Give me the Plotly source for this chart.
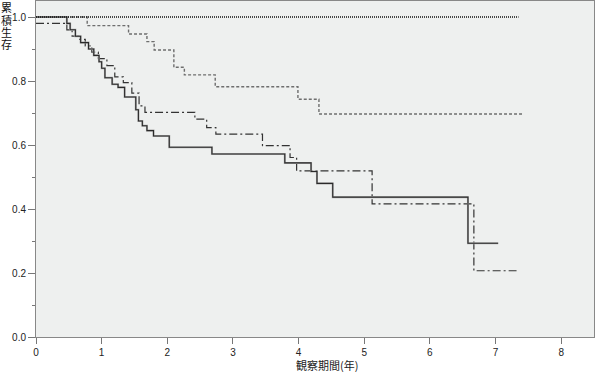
import plotly.graph_objects as go

# Kaplan-Meier step data (time in years, cumulative survival)
t_dotted = [0.0, 7.35]
s_dotted = [1.0, 1.0]

t_dashed = [0.0, 0.78, 1.41, 1.69, 1.80, 2.10, 2.26, 2.73, 3.99, 4.31, 7.42]
s_dashed = [1.0, 0.973, 0.947, 0.923, 0.897, 0.843, 0.819, 0.782, 0.743, 0.697, 0.697]

t_dashdot = [0.0, 0.47, 0.55, 0.65, 0.75, 0.85, 0.95, 1.08, 1.20, 1.33, 1.46, 1.57, 1.66,
             2.42, 2.60, 2.74, 3.45, 3.87, 3.97, 5.12, 6.67, 7.32]
s_dashdot = [0.98, 0.96, 0.94, 0.93, 0.91, 0.89, 0.87, 0.848, 0.813, 0.795, 0.762, 0.722, 0.702,
             0.681, 0.654, 0.634, 0.598, 0.561, 0.519, 0.416, 0.207, 0.207]

t_solid = [0.0, 0.47, 0.52, 0.60, 0.68, 0.80, 0.88, 0.96, 1.00, 1.05, 1.16, 1.25, 1.35,
           1.52, 1.56, 1.62, 1.69, 1.79, 2.03, 2.68, 3.79, 4.19, 4.28, 4.52, 6.58, 7.04]
s_solid = [1.0, 0.98, 0.96, 0.94, 0.92, 0.90, 0.88, 0.86, 0.84, 0.81, 0.79, 0.78, 0.75,
           0.71, 0.675, 0.66, 0.645, 0.628, 0.593, 0.572, 0.544, 0.517, 0.480, 0.437, 0.293, 0.293]

x_ticks = [0, 1, 2, 3, 4, 5, 6, 7, 8]
y_ticks = [0.0, 0.2, 0.4, 0.6, 0.8, 1.0]
y_tick_labels = ["0.0", "0.2", "0.4", "0.6", "0.8", "1.0"]

x_title = "観察期間(年)"
y_title = "累積生存"

fig = go.Figure()
fig.add_trace(go.Scatter(x=t_dashed, y=s_dashed, mode="lines", line_shape="hv",
                         line=dict(color="#6e6e6e", width=1.4, dash="3px,2px")))
fig.add_trace(go.Scatter(x=t_dashdot, y=s_dashdot, mode="lines", line_shape="hv",
                         line=dict(color="#333333", width=1.2, dash="8px,3px,2px,3px")))
fig.add_trace(go.Scatter(x=t_solid, y=s_solid, mode="lines", line_shape="hv",
                         line=dict(color="#aaaaaa", width=2.0)))
fig.add_trace(go.Scatter(x=t_solid, y=s_solid, mode="lines", line_shape="hv",
                         line=dict(color="#2a2a2a", width=1.1)))
fig.add_trace(go.Scatter(x=t_dotted, y=s_dotted, mode="lines", line_shape="hv",
                         line=dict(color="#111111", width=1.6, dash="1px,1px")))

tick_font = dict(family="Liberation Sans, Arial, sans-serif", size=10, color="#222")
cjk = "Noto Sans CJK JP, sans-serif"

fig.update_layout(
    width=596, height=372,
    margin=dict(l=36, r=2, t=1, b=35),
    paper_bgcolor="white",
    plot_bgcolor="#eef0ef",
    showlegend=False,
    hovermode=False,
    xaxis=dict(range=[0, 8.5], tickvals=x_ticks, ticks="outside", ticklen=6,
               tickcolor="#777", showgrid=False, zeroline=False, showline=True,
               linecolor="#888", linewidth=1, mirror=True, tickfont=tick_font,
               automargin=False),
    yaxis=dict(range=[0, 1.05], tickvals=y_ticks, ticktext=y_tick_labels,
               ticks="outside", ticklen=7, tickcolor="#777", showgrid=False,
               zeroline=False, showline=True, linecolor="#888", linewidth=1,
               mirror=True, tickfont=tick_font, automargin=False,
               minor=dict(dtick=0.1, ticks="outside", ticklen=3, tickcolor="#777")),
)

fig.add_annotation(text=x_title, xref="paper", yref="paper", x=(327 - 36) / 558,
                   y=-(365 - 337) / 336, yanchor="middle", showarrow=False,
                   font=dict(family=cjk, size=11, color="#222"))
# vertical stacked y-axis title, one character per line (pixel positions from top)
for i, ch in enumerate(y_title):
    ypx = 7 + 12.5 * i
    fig.add_annotation(text=ch, xref="paper", yref="paper",
                       x=(6 - 36) / 558, xanchor="center",
                       y=(337 - ypx) / 336, yanchor="middle", showarrow=False,
                       borderpad=0, font=dict(family=cjk, size=11, color="#111"))

fig.write_html("out.html", config={"displayModeBar": False},
               post_script="document.body.style.margin='0';document.body.style.overflow='hidden';")
